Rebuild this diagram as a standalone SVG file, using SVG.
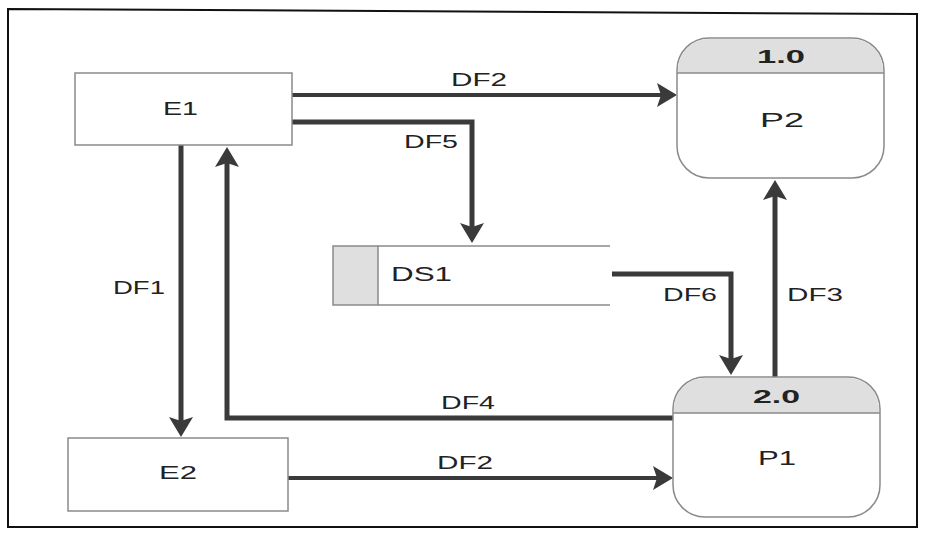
<svg xmlns="http://www.w3.org/2000/svg" width="925" height="539" viewBox="0 0 925 539">
<style>
.box{fill:#fff;stroke:#8a8a8a;stroke-width:1.5}
.hdr{fill:#dfdfdf;stroke:none}
.div{stroke:#8a8a8a;stroke-width:1.5;fill:none}
.flow{fill:none;stroke:#3a3a3a;stroke-width:5;marker-end:url(#ah)}
.thin{stroke-width:4}
.t{font-family:"Liberation Sans",Arial,sans-serif;font-size:18px;fill:#222}
.b{font-weight:bold;font-size:19px}
</style>
<defs>
<marker id="ah" markerUnits="userSpaceOnUse" viewBox="0 0 20 24" refX="10" refY="12" markerWidth="20" markerHeight="24" orient="auto">
<path d="M0,0 L20,12 L0,24 L4,12 Z" fill="#3a3a3a"/>
</marker>
</defs>
<rect width="925" height="539" fill="#fff"/>
<path d="M8,9 L917,14 L917,527 L8,527 Z" fill="none" stroke="#111" stroke-width="2"/>

<g id="connectors">
<path class="flow thin" d="M292,95 H667"/>
<path class="flow" d="M292,122 H472 V233"/>
<path class="flow" d="M181,145 V427"/>
<path class="flow" d="M673,418 H227 V157"/>
<path class="flow" d="M612,274 H731 V365"/>
<path class="flow" d="M775,377 V190"/>
<path class="flow thin" d="M288,478 H663"/>
<text class="t" x="451" y="86" textLength="56" lengthAdjust="spacingAndGlyphs">DF2</text>
<text class="t" x="404" y="148" textLength="54" lengthAdjust="spacingAndGlyphs">DF5</text>
<text class="t" x="113" y="294" textLength="52" lengthAdjust="spacingAndGlyphs">DF1</text>
<text class="t" x="663" y="301" textLength="54" lengthAdjust="spacingAndGlyphs">DF6</text>
<text class="t" x="787" y="301" textLength="56" lengthAdjust="spacingAndGlyphs">DF3</text>
<text class="t" x="441" y="409" textLength="54" lengthAdjust="spacingAndGlyphs">DF4</text>
<text class="t" x="437" y="469" textLength="56" lengthAdjust="spacingAndGlyphs">DF2</text>
</g>

<g id="E1">
<rect class="box" x="75" y="73" width="217" height="72"/>
<text class="t" x="163" y="115" textLength="35" lengthAdjust="spacingAndGlyphs">E1</text>
</g>

<g id="E2">
<rect class="box" x="68" y="438" width="220" height="73"/>
<text class="t" x="159" y="479" textLength="38" lengthAdjust="spacingAndGlyphs">E2</text>
</g>

<g id="DS1">
<rect x="333" y="246" width="45" height="59" fill="#dfdfdf" stroke="#8a8a8a" stroke-width="1.5"/>
<path class="div" d="M378,246 H610 M378,305 H610"/>
<text class="t" x="391" y="281" style="font-size:20px" textLength="61" lengthAdjust="spacingAndGlyphs">DS1</text>
</g>

<g id="P2">
<rect class="box" x="677" y="38" width="207" height="140" rx="32" ry="32"/>
<path class="hdr" d="M678,73 V70 A31,31 0 0 1 709,39 H852 A31,31 0 0 1 883,70 V73 Z"/>
<path class="div" d="M677,73 H884"/>
<text class="t b" x="757" y="63" textLength="48" lengthAdjust="spacingAndGlyphs">1.0</text>
<text class="t" x="760" y="127" style="font-size:20px" textLength="44" lengthAdjust="spacingAndGlyphs">P2</text>
</g>

<g id="P1">
<rect class="box" x="673" y="377" width="207" height="140" rx="32" ry="32"/>
<path class="hdr" d="M674,413 V409 A31,31 0 0 1 705,378 H848 A31,31 0 0 1 879,409 V413 Z"/>
<path class="div" d="M673,413 H880"/>
<text class="t b" x="753" y="403" textLength="47" lengthAdjust="spacingAndGlyphs">2.0</text>
<text class="t" x="758" y="465" style="font-size:20px" textLength="38" lengthAdjust="spacingAndGlyphs">P1</text>
</g>
</svg>
